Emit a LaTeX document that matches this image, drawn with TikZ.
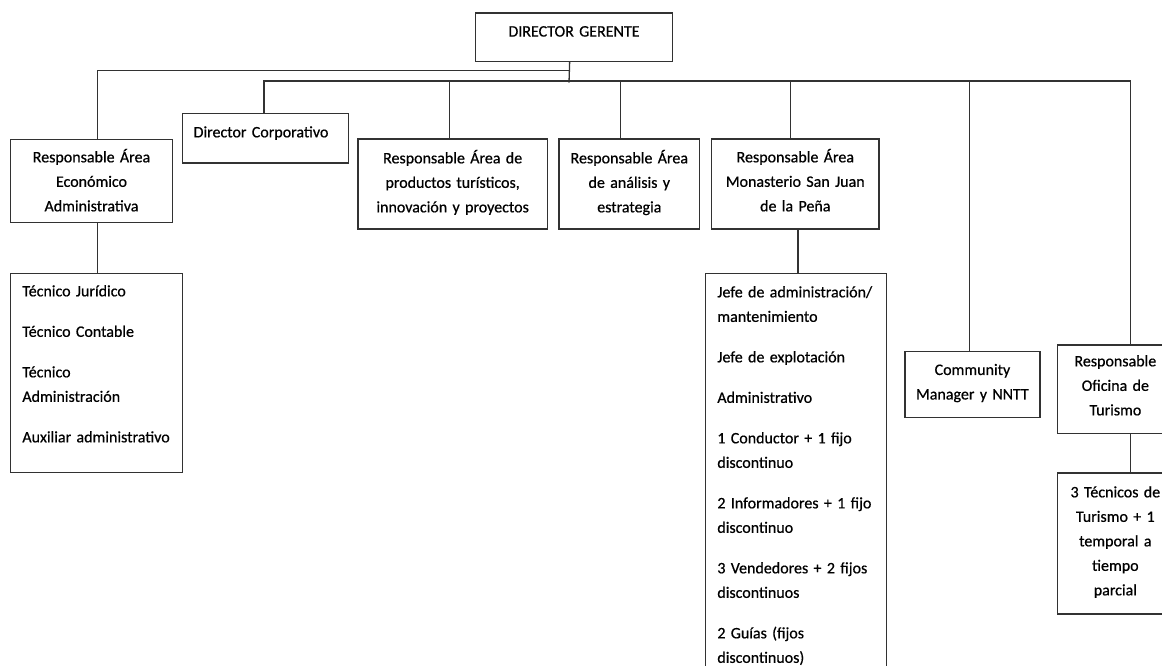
\documentclass[tikz,border=0pt]{standalone}
\usepackage{fontspec}
\setmainfont{Carlito}
\newfontfamily\orgfamily{Carlito}[FakeBold=0.6,WordSpace=0.85]
\usepackage{xcolor}
\definecolor{linegray}{RGB}{50,50,50}
\newcommand{\orgfont}{\orgfamily\fontsize{16pt}{24.5pt}\selectfont}

\begin{document}
\begin{tikzpicture}[x=1pt,y=-1pt,
    box/.style={draw=linegray,line width=1.3pt,anchor=north west,inner ysep=0pt,inner xsep=4pt,align=center,font=\orgfont},
    listbox/.style={box,inner xsep=11.7pt,align=left},
    conn/.style={draw=linegray,line width=1.3pt}]
    \useasboundingbox (0,0) rectangle (1162,665);
    \clip (0,0) rectangle (1162,665);

    \node[box,text width=188.7pt,text height=23.6pt,text depth=24.8pt] (dg) at (475,12.3) {DIRECTOR GERENTE};
    \node[listbox,inner xsep=11.3pt,text width=143.4pt,text height=23.7pt,text depth=25.6pt] (dcorp) at (181.7,113) {Director Corporativo};
    \node[box,text width=153.7pt,text height=22.7pt,text depth=60pt] (eco) at (10,139) {Responsable Área\\Económico\\Administrativa};
    \node[box,text width=181.4pt,text height=24.4pt,text depth=65.6pt] (prod) at (357.3,138.3) {Responsable Área de\\productos turísticos,\\innovación y proyectos};
    \node[box,text width=132.7pt,text height=24.4pt,text depth=65.6pt] (ana) at (558.3,138.3) {Responsable Área\\de análisis y\\estrategia};
    \node[box,text width=159.3pt,text height=23.4pt,text depth=66.6pt] (mon) at (711,138.3) {Responsable Área\\Monasterio San Juan\\de la Peña};
    \node[box,text width=127pt,text height=23.3pt,text depth=42.4pt] (com) at (904.3,351) {Community\\Manager y NNTT};
    \node[box,text width=108pt,text height=21.4pt,text depth=67pt] (ofi) at (1056.7,344.3) {Responsable\\Oficina de\\Turismo};
    \node[box,text width=108pt,text height=24.4pt,text depth=116.6pt] (ttur) at (1056.7,472.3) {3 Técnicos de\\Turismo + 1\\temporal a\\tiempo\\parcial};
    \node[listbox,text width=148.6pt,text height=22.7pt,text depth=176.3pt] (tec) at (10,273)
      {Técnico Jurídico\\[16pt]Técnico Contable\\[16pt]Técnico\\Administración\\[16pt]Auxiliar administrativo};
    \node[listbox,text width=157.3pt,text height=24pt,text depth=400pt] (jefe) at (705,272.7)
      {Jefe de administración/\\mantenimiento\\[16pt]Jefe de explotación\\[16pt]Administrativo\\[16pt]1 Conductor + 1 fijo\\discontinuo\\[16pt]2 Informadores + 1 fijo\\discontinuo\\[16pt]3 Vendedores + 2 fijos\\discontinuos\\[16pt]2 Guías (fijos\\discontinuos)};

    \coordinate (tapA) at (569,70.3);
    \coordinate (tapB) at (569,81);
    \coordinate (stem) at (569,82.7);

    \draw[conn] ([xshift=-4.35pt]dg.south) -- (stem);
    \draw[conn] (tapA) -| ([xshift=5.85pt]eco.north);
    \draw[conn] (tapB) -| ([xshift=-1.4pt]dcorp.north);
    \draw[conn] (tapB) -| ([xshift=15.3pt]ofi.north);
    \draw[conn] ([xshift=-3pt]prod.north) -- ([xshift=-3pt]prod.north |- tapB);
    \draw[conn] ([xshift=-8.65pt]ana.north) -- ([xshift=-8.65pt]ana.north |- tapB);
    \draw[conn] ([xshift=-4.65pt]mon.north) -- ([xshift=-4.65pt]mon.north |- tapB);
    \draw[conn] ([xshift=-2.8pt]com.north) -- ([xshift=-2.8pt]com.north |- tapB);
    \draw[conn] ([xshift=5.85pt]eco.south) -- ([xshift=5.85pt]eco.south |- tec.north);
    \draw[conn] ([xshift=2.65pt]mon.south) -- ([xshift=2.65pt]mon.south |- jefe.north);
    \draw[conn] ([xshift=15.3pt]ofi.south) -- ([xshift=15.3pt]ofi.south |- ttur.north);
  \end{tikzpicture}
\end{document}
